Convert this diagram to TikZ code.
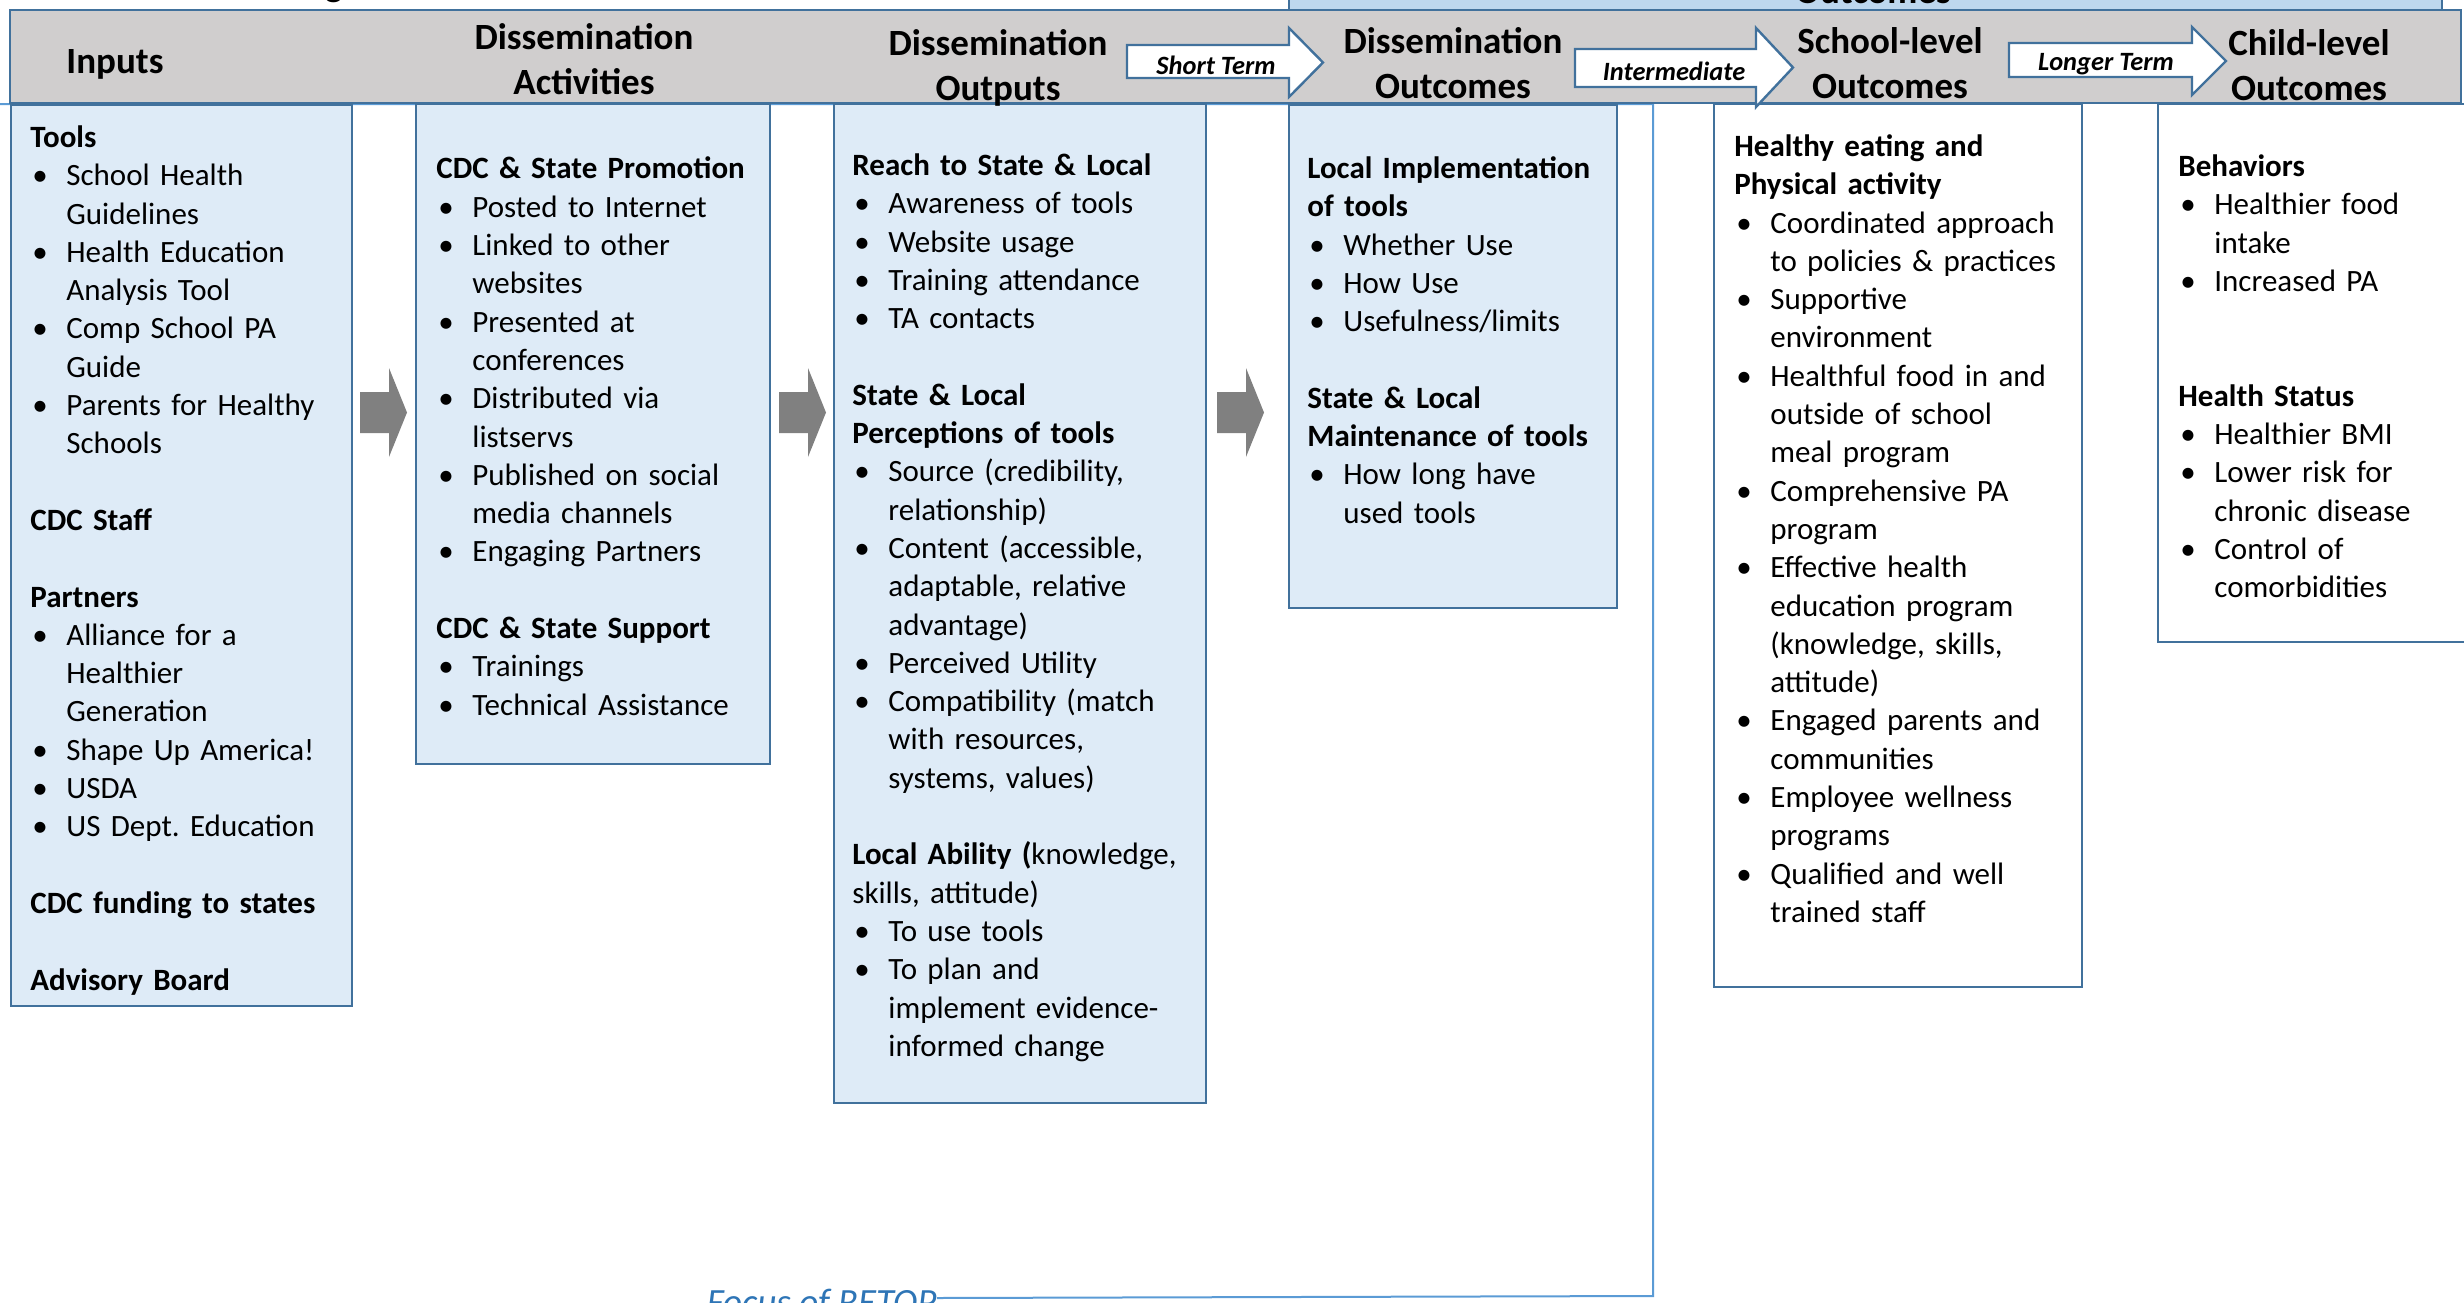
\documentclass[tikz,border=0pt]{standalone}
\usepackage{fontspec}
\setmainfont{Carlito}
\definecolor{bordblue}{HTML}{41719C}
\definecolor{bandgray}{HTML}{D0CECE}
\definecolor{boxblue}{HTML}{DEEBF7}
\definecolor{topblue}{HTML}{BDD7EE}
\definecolor{arrgray}{HTML}{808080}
\definecolor{brackblue}{HTML}{5B9BD5}
\definecolor{focusblue}{HTML}{2E75B6}
\newcommand{\fstrut}{\rule{0pt}{14pt}}
\newcommand{\hstrut}{\rule{0pt}{16pt}}
\newcommand{\hd}[1]{\textbf{#1}}
\newcommand{\bu}[1]{\makebox[18pt][l]{\hspace{1pt}\textbullet}#1}
\newcommand{\ct}[1]{\hspace*{18pt}#1}
\newcommand{\blank}{\\[19.15pt]}
\newcommand{\grayarrow}[1]{\fill[arrgray, shift={(#1,0)}] (0,392) -- (29,392) -- (29,368) -- (47,412.5) -- (29,457) -- (29,433) -- (0,433) -- cycle;}
\begin{document}
\begin{tikzpicture}[x=0.5pt,y=-0.5pt,
  colbox/.style={draw=bordblue, fill=boxblue, line width=1.3pt},
  whitebox/.style={draw=bordblue, fill=white, line width=1.3pt},
  band/.style={draw=bordblue, fill=bandgray, line width=1.4pt},
  blockarr/.style={draw=bordblue, fill=white, line width=1.2pt, line join=miter},
  bracket/.style={draw=brackblue, line width=1pt},
  boxtext/.style={anchor=north west, inner sep=0pt, text width=200pt, align=left,
    font=\fontsize{15.5}{19.15}\selectfont},
  hdr/.style={anchor=north, inner sep=0pt, text width=170pt, align=center,
    font=\fontsize{18.5}{22.5}\selectfont\bfseries},
  lbl/.style={inner sep=0pt, font=\fontsize{13.2}{15}\selectfont\bfseries\itshape},
]
\useasboundingbox (0,0) rectangle (2464,1302);
\clip (0,0) rectangle (2464,1302);

% focus bracket (behind everything)
\coordinate (bL) at (0,104);
\coordinate (bR) at (1653,104);
\coordinate (bB) at (1653,1296);
\coordinate (bE) at (937,1298);
\draw[bracket] (bL) -- (bR) -- (bB) -- (bE);
\node[anchor=base east, inner sep=0pt, text=focusblue,
  font=\fontsize{18.5}{22}\selectfont\itshape] (focus) at (937,1314) {Focus of RETOP};

% top fragments
\draw[draw=bordblue, fill=topblue, line width=1.3pt] (1289,-30) rectangle (2442,10);
\node[anchor=base, inner sep=0pt, font=\fontsize{18.5}{22}\selectfont\bfseries] (outtop) at (1873,3) {Outcomes};
\node[anchor=base, inner sep=0pt, font=\fontsize{18.5}{22}\selectfont\bfseries] (gtop) at (334,-4) {g};

% header band
\draw[band] (10,10) rectangle (2461,103);

% column boxes
\draw[colbox] (11,105) rectangle (352,1006);
\draw[colbox] (416,104) rectangle (770,764);
\draw[colbox] (834,104) rectangle (1206,1103);
\draw[colbox] (1289,105) rectangle (1617,608);
\draw[whitebox] (1714,104) rectangle (2082,987);
\draw[whitebox] (2158,104) rectangle (2490,642);

% gray arrows
\grayarrow{360}
\grayarrow{779}
\grayarrow{1217}

% header titles
\node[hdr] (hInputs) at (115,41) {\hstrut Inputs};
\node[hdr] (hAct) at (584,17) {\hstrut Dissemination\\Activities};
\node[hdr] (hOut) at (998,23) {\hstrut Dissemination\\Outputs};
\node[hdr] (hDO) at (1453,21) {\hstrut Dissemination\\Outcomes};
\node[hdr] (hSch) at (1890,21) {\hstrut School-level\\Outcomes};
\node[hdr] (hChild) at (2309,23) {\hstrut Child-level\\Outcomes};

% block arrows in header
\draw[blockarr] (1127,45) -- (1289,45) -- (1289,28) -- (1323,62.5) -- (1289,97) -- (1289,78) -- (1127,78) -- cycle;
\draw[blockarr] (1575,49) -- (1756,49) -- (1756,28) -- (1793,67.5) -- (1756,107) -- (1756,87) -- (1575,87) -- cycle;
\draw[blockarr] (2009,43) -- (2192,43) -- (2192,27) -- (2226,61) -- (2192,95) -- (2192,77) -- (2009,77) -- cycle;
\node[lbl] (lShort) at (1216,65) {Short Term};
\node[lbl] (lInter) at (1674,71) {Intermediate};
\node[lbl] (lLong) at (2106,64) {Longer Term};

% box texts
\node[boxtext] (tInputs) at (30,119) {\fstrut\hd{Tools}\\
\bu{School Health}\\
\ct{Guidelines}\\
\bu{Health Education}\\
\ct{Analysis Tool}\\
\bu{Comp School PA}\\
\ct{Guide}\\
\bu{Parents for Healthy}\\
\ct{Schools}\blank
\hd{CDC Staff}\blank
\hd{Partners}\\
\bu{Alliance for a}\\
\ct{Healthier}\\
\ct{Generation}\\
\bu{Shape Up America!}\\
\bu{USDA}\\
\bu{US Dept.\ Education}\blank
\hd{CDC funding to states}\blank
\hd{Advisory Board}};

\node[boxtext] (tAct) at (436,150.5) {\fstrut\hd{CDC \& State Promotion}\\
\bu{Posted to Internet}\\
\bu{Linked to other}\\
\ct{websites}\\
\bu{Presented at}\\
\ct{conferences}\\
\bu{Distributed via}\\
\ct{listservs}\\
\bu{Published on social}\\
\ct{media channels}\\
\bu{Engaging Partners}\blank
\hd{CDC \& State Support}\\
\bu{Trainings}\\
\bu{Technical Assistance}};

\node[boxtext] (tOut) at (852,147) {\fstrut\hd{Reach to State \& Local}\\
\bu{Awareness of tools}\\
\bu{Website usage}\\
\bu{Training attendance}\\
\bu{TA contacts}\blank
\hd{State \& Local}\\
\hd{Perceptions of tools}\\
\bu{Source (credibility,}\\
\ct{relationship)}\\
\bu{Content (accessible,}\\
\ct{adaptable, relative}\\
\ct{advantage)}\\
\bu{Perceived Utility}\\
\bu{Compatibility (match}\\
\ct{with resources,}\\
\ct{systems, values)}\blank
\hd{Local Ability (}knowledge,\\
skills, attitude)\\
\bu{To use tools}\\
\bu{To plan and}\\
\ct{implement evidence-}\\
\ct{informed change}};

\node[boxtext] (tDO) at (1307,150) {\fstrut\hd{Local Implementation}\\
\hd{of tools}\\
\bu{Whether Use}\\
\bu{How Use}\\
\bu{Usefulness/limits}\blank
\hd{State \& Local}\\
\hd{Maintenance of tools}\\
\bu{How long have}\\
\ct{used tools}};

\node[boxtext] (tSch) at (1734,128) {\fstrut\hd{Healthy eating and}\\
\hd{Physical activity}\\
\bu{Coordinated approach}\\
\ct{to policies \& practices}\\
\bu{Supportive}\\
\ct{environment}\\
\bu{Healthful food in and}\\
\ct{outside of school}\\
\ct{meal program}\\
\bu{Comprehensive PA}\\
\ct{program}\\
\bu{Effective health}\\
\ct{education program}\\
\ct{(knowledge, skills,}\\
\ct{attitude)}\\
\bu{Engaged parents and}\\
\ct{communities}\\
\bu{Employee wellness}\\
\ct{programs}\\
\bu{Qualified and well}\\
\ct{trained staff}};

\node[boxtext] (tChild) at (2178,148) {\fstrut\hd{Behaviors}\\
\bu{Healthier food}\\
\ct{intake}\\
\bu{Increased PA}\\[38.3pt]
\hd{Health Status}\\
\bu{Healthier BMI}\\
\bu{Lower risk for}\\
\ct{chronic disease}\\
\bu{Control of}\\
\ct{comorbidities}};
\end{tikzpicture}
\end{document}
